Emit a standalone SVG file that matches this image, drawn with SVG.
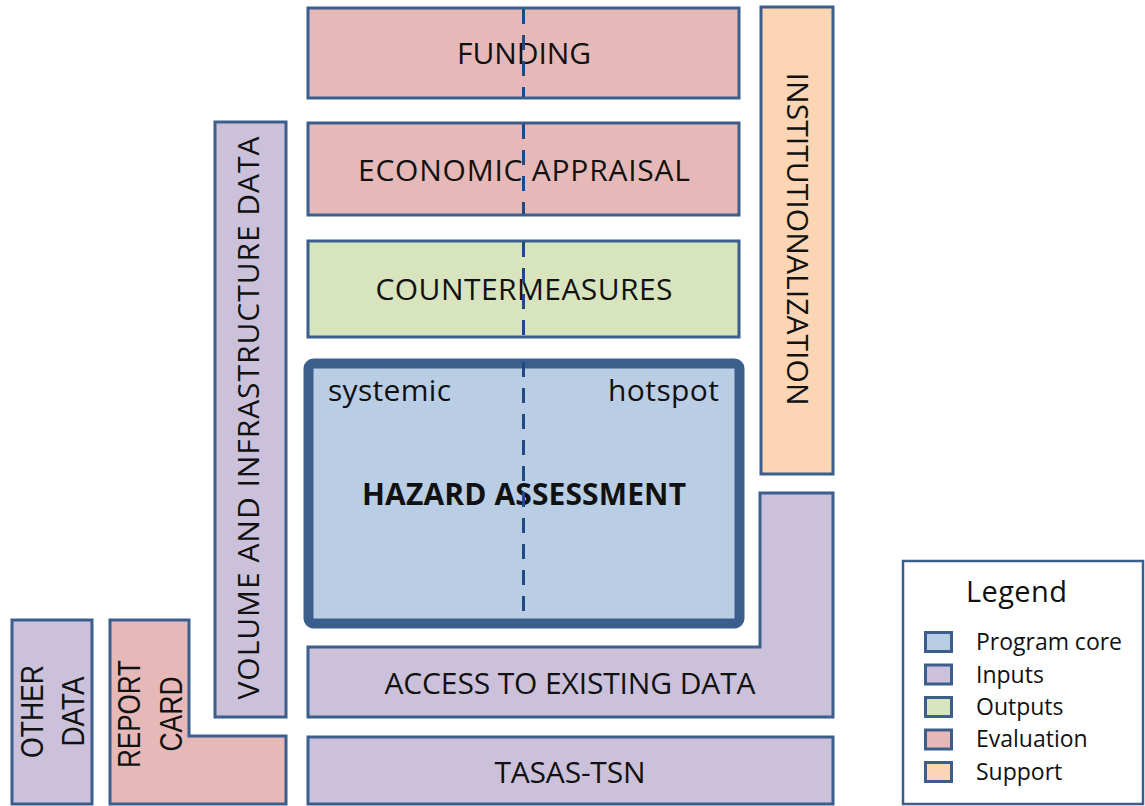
<svg xmlns="http://www.w3.org/2000/svg" width="1145" height="806" viewBox="0 0 1145 806">
<style>
.box{stroke:#3b5e8c;stroke-width:3;stroke-linejoin:miter}
.core{fill:#b9cde5}
.inp{fill:#ccc1da}
.out{fill:#d7e4bd}
.eva{fill:#e6b9b8}
.sup{fill:#fcd5b5}
.t{font-family:"Open Sans","Liberation Sans",sans-serif;font-size:30px;fill:#111}
.n{font-family:"Liberation Sans",Arial,sans-serif;font-size:32px;fill:#111}
.lg{font-family:"Open Sans","Liberation Sans",sans-serif;font-size:23px;fill:#111}
.lgt{font-family:"Open Sans","Liberation Sans",sans-serif;font-size:29px;fill:#111}
.dash{stroke:#1f4a85;stroke-width:3;stroke-dasharray:15 11;fill:none}
</style>
<rect width="1145" height="806" fill="#ffffff"/>
<g id="other-data">
<rect class="box inp" x="12" y="620" width="80" height="184"/>
<text class="n" transform="translate(43,711.5) rotate(-90)" text-anchor="middle" textLength="93" lengthAdjust="spacingAndGlyphs">OTHER</text>
<text class="n" transform="translate(84,711.5) rotate(-90)" text-anchor="middle" textLength="70" lengthAdjust="spacingAndGlyphs">DATA</text>
</g>
<g id="report-card">
<path class="box eva" d="M110,620 H189 V736 H286 V804 H110 Z"/>
<text class="n" transform="translate(140,714) rotate(-90)" text-anchor="middle" textLength="108" lengthAdjust="spacingAndGlyphs">REPORT</text>
<text class="n" transform="translate(182,714) rotate(-90)" text-anchor="middle" textLength="75" lengthAdjust="spacingAndGlyphs">CARD</text>
</g>
<g id="volume-data">
<rect class="box inp" x="215" y="122" width="71" height="595"/>
<text class="t" transform="translate(259,418) rotate(-90)" text-anchor="middle" textLength="563">VOLUME AND INFRASTRUCTURE DATA</text>
</g>
<g id="funding">
<rect class="box eva" x="308" y="8" width="431" height="90"/>
<text class="t" x="524" y="64" text-anchor="middle" textLength="134">FUNDING</text>
</g>
<g id="economic-appraisal">
<rect class="box eva" x="308" y="123" width="431" height="92"/>
<text class="t" x="524" y="181" text-anchor="middle" textLength="332">ECONOMIC APPRAISAL</text>
</g>
<g id="countermeasures">
<rect class="box out" x="308" y="241" width="431" height="96"/>
<text class="t" x="524" y="300" text-anchor="middle" textLength="297">COUNTERMEASURES</text>
</g>
<g id="hazard-assessment">
<rect class="core" x="308.5" y="363.5" width="431" height="260" rx="5" stroke="#3b5e8c" stroke-width="10"/>
<text class="t" x="328" y="401" textLength="123">systemic</text>
<text class="t" x="719" y="401" text-anchor="end" textLength="111">hotspot</text>
<text class="t" x="524" y="505" text-anchor="middle" font-weight="bold" textLength="324">HAZARD ASSESSMENT</text>
</g>
<g id="institutionalization">
<rect class="box sup" x="761" y="7" width="72" height="467"/>
<text class="t" transform="translate(787,239) rotate(90)" text-anchor="middle" textLength="333">INSTITUTIONALIZATION</text>
</g>
<g id="access-data">
<path class="box inp" d="M760,493 H833 V717 H308 V647 H760 Z"/>
<text class="t" x="570" y="694" text-anchor="middle" textLength="371">ACCESS TO EXISTING DATA</text>
</g>
<g id="tasas-tsn">
<rect class="box inp" x="308" y="737" width="525" height="67"/>
<text class="t" x="570" y="783" text-anchor="middle" textLength="151">TASAS-TSN</text>
</g>
<g id="connectors">
<line class="dash" x1="523.5" y1="9" x2="523.5" y2="97"/>
<line class="dash" x1="523.5" y1="124" x2="523.5" y2="214"/>
<line class="dash" x1="523.5" y1="242" x2="523.5" y2="336"/>
<line class="dash" x1="523.5" y1="362" x2="523.5" y2="618"/>
</g>
<g id="legend">
<rect x="903" y="561" width="240" height="243" fill="#ffffff" stroke="#3b5e8c" stroke-width="2.5"/>
<text class="lgt" x="966" y="602" textLength="101">Legend</text>
<rect class="box core" x="925.5" y="632.5" width="26" height="19"/>
<rect class="box inp" x="925.5" y="665" width="26" height="19"/>
<rect class="box out" x="925.5" y="697.5" width="26" height="19"/>
<rect class="box eva" x="925.5" y="730" width="26" height="19"/>
<rect class="box sup" x="925.5" y="762.5" width="26" height="19"/>
<text class="lg" x="976" y="650" textLength="146">Program core</text>
<text class="lg" x="976" y="683">Inputs</text>
<text class="lg" x="976" y="715">Outputs</text>
<text class="lg" x="976" y="747">Evaluation</text>
<text class="lg" x="976" y="780">Support</text>
</g>
</svg>
